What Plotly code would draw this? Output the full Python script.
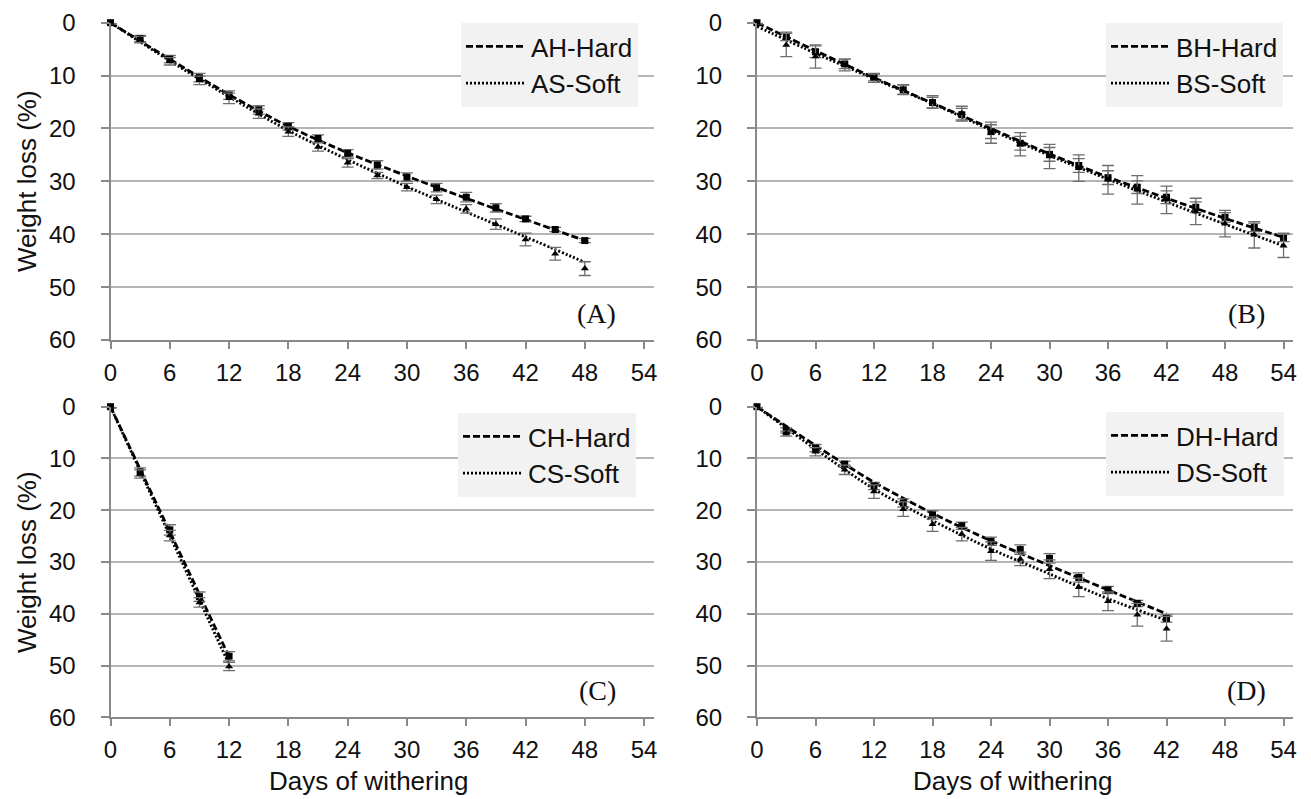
import plotly.graph_objects as go

# ---------------- data ----------------
days_A = [0, 3, 6, 9, 12, 15, 18, 21, 24, 27, 30, 33, 36, 39, 42, 45, 48]
AH = [0, 3.0, 6.9, 10.4, 13.7, 16.5, 19.6, 21.9, 24.7, 26.9, 29.2, 31.2, 33.0, 35.0, 37.1, 39.1, 41.2]
AH_err = [0.2, 0.6, 0.7, 0.8, 0.8, 0.8, 0.7, 0.7, 0.7, 0.8, 0.8, 0.8, 0.9, 0.8, 0.5, 0.4, 0.4]
AS = [0, 3.2, 7.3, 10.9, 14.3, 17.2, 20.6, 23.5, 26.5, 28.9, 31.1, 33.4, 35.2, 38.1, 41.0, 43.7, 46.5]
AS_err = [0.2, 0.6, 0.7, 0.8, 1.0, 0.9, 0.9, 0.8, 0.8, 0.6, 0.7, 0.8, 0.8, 1.0, 1.2, 1.2, 1.3]
trend_days_A = [0, 6, 12, 18, 24, 30, 36, 42, 48]
AH_trend = [0, 6.9, 13.6, 19.6, 24.6, 29.0, 33.2, 37.2, 41.2]
AS_trend = [0, 7.2, 14.0, 20.4, 25.9, 31.0, 35.8, 40.5, 45.3]

days_B = [0, 3, 6, 9, 12, 15, 18, 21, 24, 27, 30, 33, 36, 39, 42, 45, 48, 51, 54]
BH = [0, 2.6, 5.5, 7.8, 10.3, 12.7, 15.1, 17.4, 20.6, 22.8, 24.9, 27.0, 29.3, 31.1, 33.0, 34.9, 36.8, 38.7, 40.6]
BH_err = [0.2, 0.8, 1.1, 0.9, 0.7, 0.9, 1.0, 1.2, 1.3, 1.3, 1.3, 1.3, 1.3, 1.2, 1.2, 1.0, 0.9, 0.8, 0.8]
BS = [0, 4.2, 6.4, 8.0, 10.5, 12.6, 15.0, 17.1, 20.8, 23.0, 25.3, 27.5, 29.7, 31.6, 33.5, 35.7, 38.0, 40.1, 42.2]
BS_err = [0.2, 2.2, 2.2, 1.1, 0.8, 0.9, 1.2, 1.3, 2.0, 2.2, 2.3, 2.5, 2.7, 2.7, 2.6, 2.5, 2.5, 2.5, 2.2]
trend_days_B = [0, 6, 12, 18, 24, 30, 36, 42, 48, 54]
BH_trend = [0, 5.3, 10.4, 15.2, 20.0, 24.8, 29.2, 33.2, 37.0, 40.6]
BS_trend = [0.7, 5.8, 10.6, 15.3, 20.3, 25.1, 29.6, 33.9, 38.1, 42.2]

days_C = [0, 3, 6, 9, 12]
CH = [0, 12.6, 23.8, 36.7, 48.2]
CH_err = [0.2, 0.8, 1.0, 0.9, 0.9]
CS = [0, 13.0, 24.9, 37.8, 50.2]
CS_err = [0.2, 0.8, 1.0, 0.9, 0.8]
trend_days_C = [0, 12]
CH_trend = [0, 48.3]
CS_trend = [0, 49.8]

days_D = [0, 3, 6, 9, 12, 15, 18, 21, 24, 27, 30, 33, 36, 39, 42]
DH = [0, 4.6, 8.0, 11.1, 15.3, 18.6, 20.9, 23.0, 26.0, 27.6, 29.3, 33.0, 35.4, 38.0, 40.9]
DH_err = [0.2, 0.5, 0.7, 0.6, 0.7, 0.8, 0.8, 0.7, 0.8, 0.9, 0.9, 0.9, 0.7, 0.6, 0.7]
DS = [0, 5.2, 8.7, 12.2, 16.4, 19.8, 22.7, 24.6, 27.9, 29.4, 31.4, 34.9, 37.6, 40.2, 42.9]
DS_err = [0.2, 0.5, 0.8, 0.9, 1.3, 1.4, 1.4, 1.3, 1.8, 1.3, 1.8, 1.8, 1.8, 2.2, 2.4]
trend_days_D = [0, 6, 12, 18, 24, 30, 36, 42]
DH_trend = [0, 7.5, 14.6, 20.6, 25.9, 30.7, 35.4, 40.0]
DS_trend = [0, 8.2, 15.9, 22.0, 27.5, 32.3, 37.1, 41.3]

x_ticks = [0, 6, 12, 18, 24, 30, 36, 42, 48, 54]
y_ticks = [0, 10, 20, 30, 40, 50, 60]

panels = [
    dict(ax="", days=days_A, H=AH, He=AH_err, S=AS, Se=AS_err, td=trend_days_A, Ht=AH_trend, St=AS_trend,
         names=("AH-Hard", "AS-Soft"), legend="legend", label="(A)"),
    dict(ax="2", days=days_B, H=BH, He=BH_err, S=BS, Se=BS_err, td=trend_days_B, Ht=BH_trend, St=BS_trend,
         names=("BH-Hard", "BS-Soft"), legend="legend2", label="(B)"),
    dict(ax="3", days=days_C, H=CH, He=CH_err, S=CS, Se=CS_err, td=trend_days_C, Ht=CH_trend, St=CS_trend,
         names=("CH-Hard", "CS-Soft"), legend="legend3", label="(C)"),
    dict(ax="4", days=days_D, H=DH, He=DH_err, S=DS, Se=DS_err, td=trend_days_D, Ht=DH_trend, St=DS_trend,
         names=("DH-Hard", "DS-Soft"), legend="legend4", label="(D)"),
]

W, H = 1311, 799
def px_x(p):
    return p / W
def px_y(p):
    return 1 - p / H

xdom_left = [px_x(110.5), px_x(654)]
xdom_right = [px_x(757), px_x(1293.3)]
ydom_top = [px_y(340), px_y(22.7)]
ydom_bot = [px_y(717.3), px_y(406.7)]

ERR_COLOR = "#6e6e6e"
fig = go.Figure()

for p in panels:
    xa = "x" + p["ax"]
    ya = "y" + p["ax"]
    fig.add_trace(go.Scatter(x=p["td"], y=p["Ht"], mode="lines", name=p["names"][0],
                             line=dict(color="black", width=2.8, dash="7px,3px", shape="spline", smoothing=0.8),
                             xaxis=xa, yaxis=ya, legend=p["legend"], cliponaxis=False))
    fig.add_trace(go.Scatter(x=p["td"], y=p["St"], mode="lines", name=p["names"][1],
                             line=dict(color="black", width=2.8, dash="2px,2px", shape="spline", smoothing=0.8),
                             xaxis=xa, yaxis=ya, legend=p["legend"], cliponaxis=False))
    fig.add_trace(go.Scatter(x=p["days"], y=p["H"], mode="markers", showlegend=False,
                             marker=dict(symbol="square", size=7, color="black"),
                             error_y=dict(type="data", array=p["He"], color=ERR_COLOR, thickness=1.3, width=6),
                             xaxis=xa, yaxis=ya, cliponaxis=False))
    fig.add_trace(go.Scatter(x=p["days"], y=p["S"], mode="markers", showlegend=False,
                             marker=dict(symbol="triangle-up", size=7, color="black"),
                             error_y=dict(type="data", array=p["Se"], color=ERR_COLOR, thickness=1.3, width=6),
                             xaxis=xa, yaxis=ya, cliponaxis=False))

AX_COLOR = "#8a8a8a"
GRID_COLOR = "#b5b5b5"
TICK_FONT = dict(family="Liberation Sans, Arial, sans-serif", size=24, color="#111111")

def xaxis_cfg(dom, anchor):
    return dict(domain=dom, anchor=anchor, range=[0, 55], tickvals=x_ticks, showgrid=False,
                showline=True, linecolor=AX_COLOR, linewidth=2, ticks="outside", ticklen=7,
                tickwidth=2, tickcolor=AX_COLOR, tickfont=TICK_FONT, zeroline=False,
                ticklabelstandoff=3, automargin=False)

def yaxis_cfg(dom, anchor):
    return dict(domain=dom, anchor=anchor, range=[60, 0], tickvals=y_ticks, showgrid=True,
                gridcolor=GRID_COLOR, gridwidth=2, showline=True, linecolor=AX_COLOR, linewidth=2,
                ticks="outside", ticklen=8, tickwidth=2, tickcolor=AX_COLOR, tickfont=TICK_FONT,
                zeroline=False, ticklabelstandoff=20, automargin=False)

legend_font = dict(family="Liberation Sans, Arial, sans-serif", size=26, color="#111111")
def legend_cfg(xr, yt):
    return dict(x=px_x(xr), y=px_y(yt), xanchor="right", yanchor="top", bgcolor="#f2f2f2",
                borderwidth=0, font=legend_font, itemwidth=60, tracegroupgap=0)

fig.update_layout(
    width=W, height=H, margin=dict(l=0, r=0, t=0, b=0, pad=0, autoexpand=False),
    paper_bgcolor="white", plot_bgcolor="white",
    xaxis=xaxis_cfg(xdom_left, "y"), yaxis=yaxis_cfg(ydom_top, "x"),
    xaxis2=xaxis_cfg(xdom_right, "y2"), yaxis2=yaxis_cfg(ydom_top, "x2"),
    xaxis3=xaxis_cfg(xdom_left, "y3"), yaxis3=yaxis_cfg(ydom_bot, "x3"),
    xaxis4=xaxis_cfg(xdom_right, "y4"), yaxis4=yaxis_cfg(ydom_bot, "x4"),
    legend=legend_cfg(638, 23), legend2=legend_cfg(1283, 23),
    legend3=legend_cfg(636, 413), legend4=legend_cfg(1284, 412),
    showlegend=True,
)

label_font = dict(family="Liberation Serif, Times New Roman, serif", size=28, color="#111111")
title_font = dict(family="Liberation Sans, Arial, sans-serif", size=26, color="#111111")
ann = []
for lab, (cx, cy) in zip(["(A)", "(B)", "(C)", "(D)"], [(596, 313), (1246, 313), (597, 690), (1246, 690)]):
    ann.append(dict(text=lab, x=px_x(cx), y=px_y(cy), xref="paper", yref="paper",
                    xanchor="center", yanchor="middle", showarrow=False, font=label_font))
for cy in [181, 562]:
    ann.append(dict(text="Weight loss (%)", x=px_x(27), y=px_y(cy), xref="paper", yref="paper",
                    xanchor="center", yanchor="middle", textangle=-90, showarrow=False, font=title_font))
for cx in [368, 1012]:
    ann.append(dict(text="Days of withering", x=px_x(cx), y=px_y(781), xref="paper", yref="paper",
                    xanchor="center", yanchor="middle", showarrow=False, font=title_font))
fig.update_layout(annotations=ann)

fig.write_html("out.html", config={"displayModeBar": False},
               post_script="document.body.style.margin='0';document.body.style.overflow='hidden';")
